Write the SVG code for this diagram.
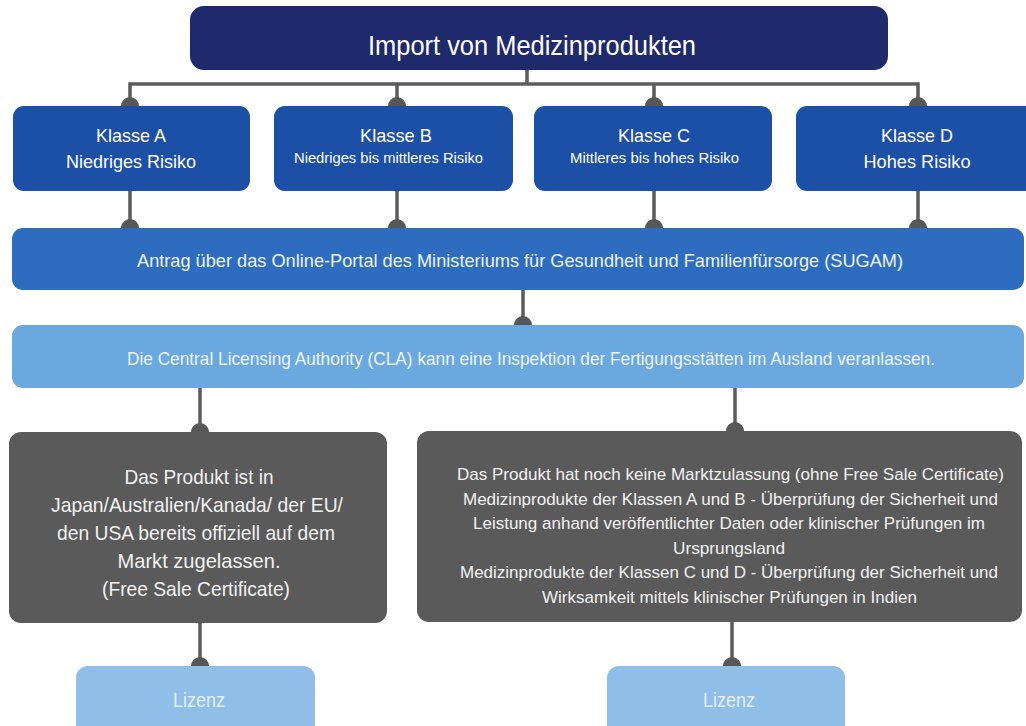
<svg xmlns="http://www.w3.org/2000/svg" xmlns:xlink="http://www.w3.org/1999/xlink" width="1026" height="726" viewBox="0 0 1026 726">
<style>
text{font-family:"Liberation Sans",Arial,sans-serif;text-anchor:middle;}
.w{fill:#ffffff;}
.l{fill:#eef4fc;}
.g{fill:#f2f2f2;}
.lz{fill:#e3eefa;}
.ln{fill:none;stroke:#5c5c5c;stroke-width:3.5;}
.dot{fill:#575757;}
</style>
<defs>
<path id="dot" d="M-9,0 A9,9 0 0 1 9,0 Z"/>
</defs>
<rect width="1026" height="726" fill="#ffffff"/>
<g id="connectors">
<path class="ln" d="M527,70 V84 M130,106 V84 H918 V106 M397,84 V106 M654,84 V106"/>
<path class="ln" d="M130,191 V228 M397,191 V228 M654,191 V228 M918,191 V228"/>
<path class="ln" d="M523,290 V325"/>
<path class="ln" d="M200,388 V432 M735,388 V431"/>
<path class="ln" d="M200,623 V666 M732,622 V666"/>
<g class="dot">
<use xlink:href="#dot" x="130" y="106"/>
<use xlink:href="#dot" x="397" y="106"/>
<use xlink:href="#dot" x="654" y="106"/>
<use xlink:href="#dot" x="918" y="106"/>
<use xlink:href="#dot" x="130" y="228"/>
<use xlink:href="#dot" x="397" y="228"/>
<use xlink:href="#dot" x="654" y="228"/>
<use xlink:href="#dot" x="918" y="228"/>
<use xlink:href="#dot" x="523" y="325"/>
<use xlink:href="#dot" x="200" y="432"/>
<use xlink:href="#dot" x="735" y="431"/>
<use xlink:href="#dot" x="200" y="666"/>
<use xlink:href="#dot" x="732" y="666"/>
</g>
</g>
<g id="title">
<rect x="190" y="6" width="698" height="64" rx="14" fill="#1f2a6d"/>
<text class="w" x="532" y="55" font-size="28" textLength="328" lengthAdjust="spacingAndGlyphs">Import von Medizinprodukten</text>
</g>
<g id="klasseA">
<rect x="13" y="106" width="237" height="85" rx="11" fill="#1c4fa6"/>
<text class="w" x="131" y="142" font-size="19" textLength="70" lengthAdjust="spacingAndGlyphs">Klasse A</text>
<text class="w" x="131" y="168" font-size="18.5" textLength="130" lengthAdjust="spacingAndGlyphs">Niedriges Risiko</text>
</g>
<g id="klasseB">
<rect x="274" y="106" width="239" height="85" rx="11" fill="#1c4fa6"/>
<text class="w" x="396" y="142" font-size="19" textLength="72" lengthAdjust="spacingAndGlyphs">Klasse B</text>
<text class="w" x="388.5" y="163" font-size="15.5" textLength="189" lengthAdjust="spacingAndGlyphs">Niedriges bis mittleres Risiko</text>
</g>
<g id="klasseC">
<rect x="534" y="106" width="238" height="85" rx="11" fill="#1c4fa6"/>
<text class="w" x="654" y="142" font-size="19" textLength="72" lengthAdjust="spacingAndGlyphs">Klasse C</text>
<text class="w" x="654.5" y="163" font-size="15.5" textLength="169" lengthAdjust="spacingAndGlyphs">Mittleres bis hohes Risiko</text>
</g>
<g id="klasseD">
<rect x="796" y="106" width="240" height="85" rx="11" fill="#1c4fa6"/>
<text class="w" x="917" y="142" font-size="19" textLength="72" lengthAdjust="spacingAndGlyphs">Klasse D</text>
<text class="w" x="917" y="168" font-size="18.5" textLength="107" lengthAdjust="spacingAndGlyphs">Hohes Risiko</text>
</g>
<g id="sugam">
<rect x="12" y="228" width="1012" height="62" rx="11" fill="#2d6cbf"/>
<text class="l" x="520" y="267" font-size="19" textLength="766" lengthAdjust="spacingAndGlyphs">Antrag über das Online-Portal des Ministeriums für Gesundheit und Familienfürsorge (SUGAM)</text>
</g>
<g id="cla">
<rect x="12" y="325" width="1012" height="63" rx="11" fill="#6aa8df"/>
<text class="l" x="531" y="365" font-size="18.5" textLength="808" lengthAdjust="spacingAndGlyphs">Die Central Licensing Authority (CLA) kann eine Inspektion der Fertigungsstätten im Ausland veranlassen.</text>
</g>
<g id="mitFSC">
<rect x="9" y="432" width="378" height="191" rx="12" fill="#5a5a5a"/>
<g class="g" font-size="21">
<text x="199" y="484" textLength="149" lengthAdjust="spacingAndGlyphs">Das Produkt ist in</text>
<text x="197" y="512" textLength="292" lengthAdjust="spacingAndGlyphs">Japan/Australien/Kanada/ der EU/</text>
<text x="196" y="540" textLength="278" lengthAdjust="spacingAndGlyphs">den USA bereits offiziell auf dem</text>
<text x="199" y="568" textLength="163" lengthAdjust="spacingAndGlyphs">Markt zugelassen.</text>
<text x="196" y="596" textLength="188" lengthAdjust="spacingAndGlyphs">(Free Sale Certificate)</text>
</g>
</g>
<g id="ohneFSC">
<rect x="417" y="431" width="605" height="191" rx="12" fill="#5a5a5a"/>
<g class="g" font-size="17">
<text x="730.5" y="480" textLength="547" lengthAdjust="spacingAndGlyphs">Das Produkt hat noch keine Marktzulassung (ohne Free Sale Certificate)</text>
<text x="730.5" y="504.6" textLength="535" lengthAdjust="spacingAndGlyphs">Medizinprodukte der Klassen A und B - Überprüfung der Sicherheit und</text>
<text x="729" y="529" textLength="512" lengthAdjust="spacingAndGlyphs">Leistung anhand veröffentlichter Daten oder klinischer Prüfungen im</text>
<text x="729" y="553.8" textLength="112" lengthAdjust="spacingAndGlyphs">Ursprungsland</text>
<text x="729" y="578.4" textLength="538" lengthAdjust="spacingAndGlyphs">Medizinprodukte der Klassen C und D - Überprüfung der Sicherheit und</text>
<text x="729.5" y="603" textLength="375" lengthAdjust="spacingAndGlyphs">Wirksamkeit mittels klinischer Prüfungen in Indien</text>
</g>
</g>
<g id="lizenz1">
<rect x="76" y="666" width="239" height="72" rx="12" fill="#8fbfe9"/>
<text class="lz" x="199" y="707" font-size="20" textLength="52" lengthAdjust="spacingAndGlyphs">Lizenz</text>
</g>
<g id="lizenz2">
<rect x="607" y="666" width="238" height="72" rx="12" fill="#8fbfe9"/>
<text class="lz" x="729" y="707" font-size="20" textLength="52" lengthAdjust="spacingAndGlyphs">Lizenz</text>
</g>
</svg>
